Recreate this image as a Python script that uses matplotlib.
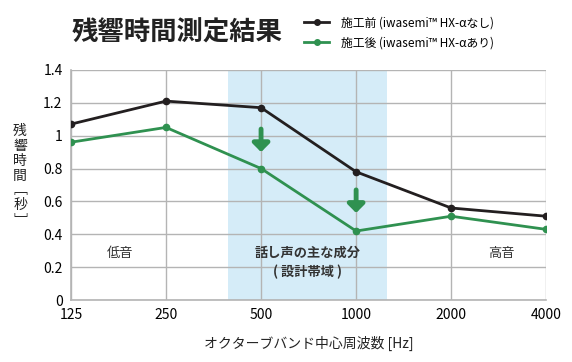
import numpy as np
import matplotlib
matplotlib.use("Agg")
import matplotlib.pyplot as plt
from matplotlib.lines import Line2D

plt.rcParams['font.family'] = ['Noto Sans CJK JP', 'DejaVu Sans']

freqs = ['125', '250', '500', '1000', '2000', '4000']
before = [1.07, 1.21, 1.17, 0.78, 0.56, 0.51]
after = [0.96, 1.05, 0.80, 0.42, 0.51, 0.43]
label_before = '施工前 (iwasemi™ HX-αなし)'
label_after = '施工後 (iwasemi™ HX-αあり)'

black = '#231f20'
green = '#2f9150'
grid_c = '#b4b4b4'

fig = plt.figure(figsize=(5.72, 3.62), dpi=100)
ax = fig.add_axes([0.124, 0.171, 0.831, 0.636])
x = np.arange(len(freqs))

# speech band
ax.axvspan(1.65, 3.33, color='#d5ecf8', zorder=0, lw=0)

ax.plot(x, before, color=black, lw=2, marker='o', ms=4.5, zorder=3)
ax.plot(x, after, color=green, lw=2, marker='o', ms=4.5, zorder=3)

# arrows
for xi, y0 in [(2, 1.04), (3, 0.67)]:
    ax.annotate('', xy=(xi, y0 - 0.14), xytext=(xi, y0),
                arrowprops=dict(arrowstyle='-|>,head_width=0.5,head_length=0.5',
                                color=green, lw=3.5, shrinkA=0, shrinkB=0),
                zorder=4)

ax.text(0.52, 0.285, '低音', ha='center', va='center', fontsize=9.5, color='#333333')
ax.text(4.53, 0.285, '高音', ha='center', va='center', fontsize=9.5, color='#333333')
ax.text(2.49, 0.285, '話し声の主な成分', ha='center', va='center', fontsize=9.5,
        fontweight='bold', color='#333333')
ax.text(2.49, 0.17, '( 設計帯域 )', ha='center', va='center', fontsize=9.5,
        fontweight='bold', color='#333333')

ax.set_xlim(0, 5)
ax.set_ylim(0, 1.4)
ax.set_xticks(x)
ax.set_xticklabels(freqs, fontsize=10)
ax.set_yticks(np.arange(0, 1.41, 0.2))
ax.set_yticklabels(['0', '0.2', '0.4', '0.6', '0.8', '1', '1.2', '1.4'], fontsize=10)
ax.tick_params(length=0, pad=6)
ax.grid(True, color=grid_c, lw=1)
ax.set_axisbelow(True)
for s in ['top', 'right']:
    ax.spines[s].set_visible(False)
for s in ['left', 'bottom']:
    ax.spines[s].set_color(grid_c)
    ax.spines[s].set_linewidth(1.2)

ax.set_xlabel('オクターブバンド中心周波数 [Hz]', fontsize=10, labelpad=10, color='#222222')
fig.text(0.035, 0.515, '残\n響\n時\n間\n﹇\n秒\n﹈', ha='center', va='center',
         fontsize=10, linespacing=1.08, color='#222222')

fig.text(0.126, 0.908, '残響時間測定結果', fontsize=19, fontweight='bold',
         va='center', ha='left', color='#222222')

handles = [Line2D([], [], color=black, lw=2, marker='o', ms=4),
           Line2D([], [], color=green, lw=2, marker='o', ms=4)]
fig.legend(handles, [label_before, label_after], loc='center left',
           bbox_to_anchor=(0.522, 0.91), frameon=False, fontsize=8.5,
           handlelength=2.1, labelspacing=0.6, borderpad=0, handletextpad=1.0)

fig.savefig('out.png', dpi=100)
